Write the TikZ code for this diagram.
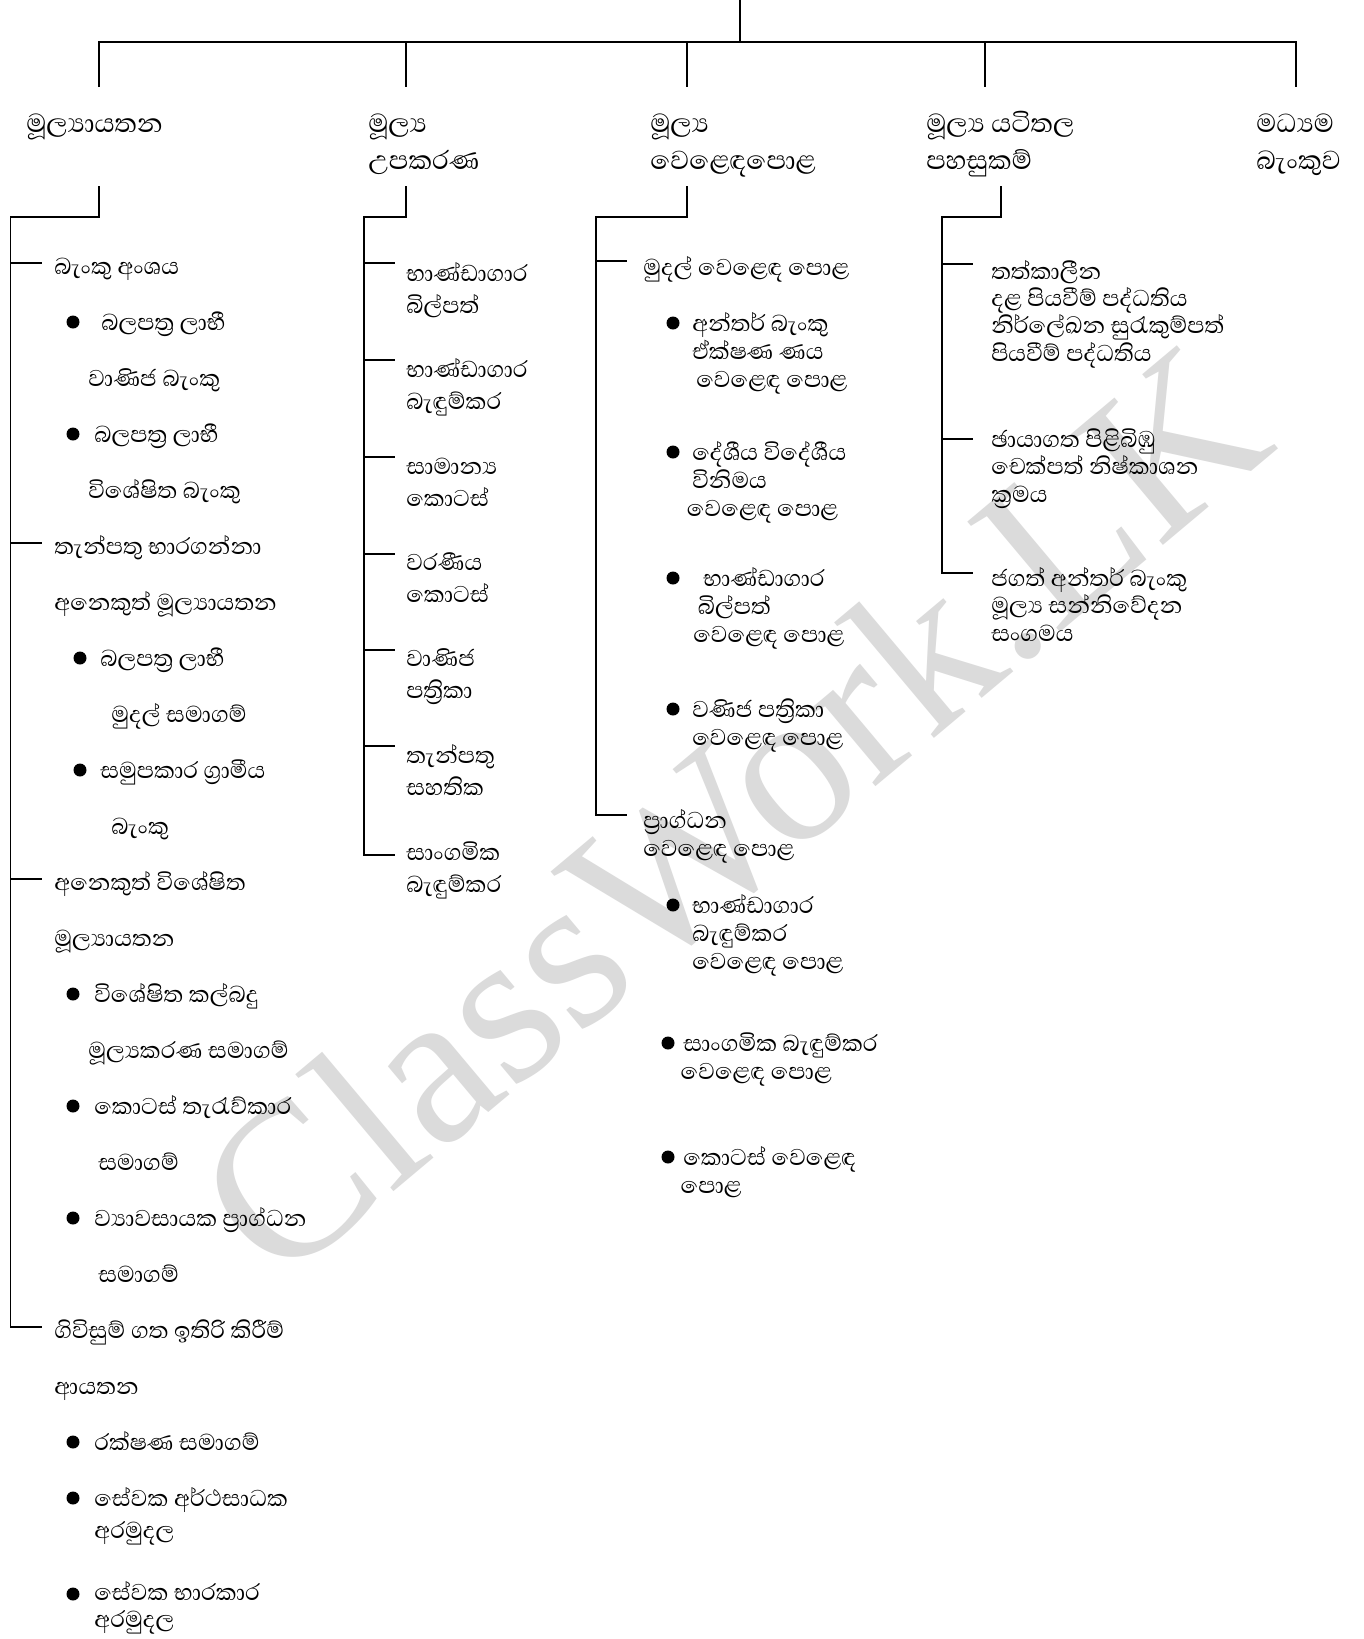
\documentclass[tikz,border=0pt]{standalone}
\usepackage{fontspec}
\setmainfont{Liberation Serif}
\newfontfamily\sinhala[Script=Sinhala]{Abhaya Libre}
\usetikzlibrary{calc}

\tikzset{
  ln/.style={line width=0.8pt},
  hdr/.style={anchor=base west, inner sep=0pt, align=left, font=\fontsize{25}{27.75}\sinhala},
  itm/.style={anchor=base west, inner sep=0pt, align=left, font=\fontsize{22}{21}\sinhala},
  ins/.style={itm, font=\fontsize{22}{24}\sinhala},
  mkt/.style={itm, font=\fontsize{22}{21}\sinhala},
  inf/.style={itm, font=\fontsize{22}{20.5}\sinhala},
  wmark/.style={inner sep=0pt, text=black!14, rotate=40, font=\fontsize{165}{165}\selectfont},
}
% stub from a trunk to an item (last baseline + offset)
\newcommand{\branch}[3]{\draw[ln] (#1 |- #2.base west) ++(0,#3) -- ++(31,0);}

\begin{document}
\begin{tikzpicture}[x=0.75pt,y=0.75pt,yscale=-1,xscale=1]
\fill[white] (0,0) rectangle (1364,1639);
\useasboundingbox (0,0) rectangle (1364,1639);

% watermark
\node[wmark] (wm) at (731,811) {ClassWork.LK};

% top level
\coordinate (top) at (740,0);
\coordinate (bar) at (740,42);
\coordinate (d1) at (99,87);
\coordinate (d2) at (406,87);
\coordinate (d3) at (687,87);
\coordinate (d4) at (985,87);
\coordinate (d5) at (1296,87);
\draw[ln] (top) -- (bar);
\draw[ln] (d1) |- (bar) -| (d5);
\draw[ln] (bar -| d2) -- (d2);
\draw[ln] (bar -| d3) -- (d3);
\draw[ln] (bar -| d4) -- (d4);

% headings
\node[hdr] (h1) at (26,132) {මූල්^^^^200dයායතන};
\node[hdr] (h2) at (368,169) {මූල්^^^^200dය\\උපකරණ};
\node[hdr] (h3) at (650,169) {මූල්^^^^200dය\\වෙළෙඳපොළ};
\node[hdr] (h4) at (926,169) {මූල්^^^^200dය යටිතල\\පහසුකම්};
\node[hdr] (h5) at (1256,169) {මධ්^^^^200dයම\\බැංකුව};

% column 1
\coordinate (k1) at (99,186);
\coordinate (t1) at (10.5,217);
\node[itm] (fi0) at (54,274) {බැංකු අංශය};
\fill (73,322) circle (6.5);
\node[itm] (fi1) at (101,330) {බලපත්^^^^200dර ලාභී};
\node[itm] (fi2) at (88,386) {වාණිජ බැංකු};
\fill (73,434) circle (6.5);
\node[itm] (fi3) at (94,442) {බලපත්^^^^200dර ලාභී};
\node[itm] (fi4) at (88,498) {විශේෂිත බැංකු};
\node[itm] (fi5) at (54,554) {තැන්පතු භාරගන්නා};
\node[itm] (fi6) at (54,610) {අනෙකුත් මූල්^^^^200dයායතන};
\fill (80,658) circle (6.5);
\node[itm] (fi7) at (100,666) {බලපත්^^^^200dර ලාභී};
\node[itm] (fi8) at (111,722) {මුදල් සමාගම්};
\fill (80,770) circle (6.5);
\node[itm] (fi9) at (100,778) {සමුපකාර ග්^^^^200dරාමීය};
\node[itm] (fi10) at (111,834) {බැංකු};
\node[itm] (fi11) at (54,890) {අනෙකුත් විශේෂිත};
\node[itm] (fi12) at (54,946) {මූල්^^^^200dයායතන};
\fill (73,994) circle (6.5);
\node[itm] (fi13) at (94,1002) {විශේෂිත කල්බදු};
\node[itm] (fi14) at (88,1058) {මූල්^^^^200dයකරණ සමාගම්};
\fill (73,1106) circle (6.5);
\node[itm] (fi15) at (94,1114) {කොටස් තැරැව්කාර};
\node[itm] (fi16) at (98,1170) {සමාගම්};
\fill (73,1218) circle (6.5);
\node[itm] (fi17) at (94,1226) {ව්^^^^200dයාවසායක ප්^^^^200dරාග්ධන};
\node[itm] (fi18) at (98,1282) {සමාගම්};
\node[itm] (fi19) at (54,1338) {ගිවිසුම් ගත ඉතිරි කිරීම්};
\node[itm] (fi20) at (54,1394) {ආයතන};
\fill (73,1442) circle (6.5);
\node[itm] (fi21) at (94,1450) {රක්ෂණ සමාගම්};
\fill (73,1498) circle (6.5);
\node[ins] (fi22) at (94,1538) {සේවක අර්ථසාධක\\අරමුදල};
\fill (73,1594) circle (6.5);
\node[itm, font=\fontsize{22}{20}\sinhala] (fi23) at (94,1627) {සේවක භාරකාර\\අරමුදල};
\draw[ln] (k1) |- (t1) -- ($(t1 |- fi19.base west)+(0,-11)$) -- ++(31,0);
\branch{t1}{fi0}{-11}
\branch{t1}{fi5}{-11}
\branch{t1}{fi11}{-11}

% column 2
\coordinate (k2) at (406,186);
\coordinate (t2) at (364,217);
\node[ins] (ins1) at (406,313) {භාණ්ඩාගාර\\බිල්පත්};
\node[ins] (ins2) at (406,409) {භාණ්ඩාගාර\\බැඳුම්කර};
\node[ins] (ins3) at (406,506) {සාමාන්^^^^200dය\\කොටස්};
\node[ins] (ins4) at (406,602) {වරණීය\\කොටස්};
\node[ins] (ins5) at (406,698) {වාණිජ\\පත්^^^^200dරිකා};
\node[ins] (ins6) at (406,795) {තැන්පතු\\සහතික};
\node[ins] (ins7) at (406,892) {සාංගමික\\බැඳුම්කර};
\draw[ln] (k2) |- (t2) -- ($(t2 |- ins7.base west)+(0,-37)$) -- ++(31,0);
\branch{t2}{ins1}{-50}
\branch{t2}{ins2}{-49}
\branch{t2}{ins3}{-49}
\branch{t2}{ins4}{-48}
\branch{t2}{ins5}{-48}
\branch{t2}{ins6}{-49}

% column 3
\coordinate (k3) at (687,186);
\coordinate (t3) at (596,217);
\node[mkt] (mk1) at (643,275) {මුදල් වෙළෙඳ පොළ};
\fill (673,323) circle (6.5);
\node[mkt] (mk11) at (692,387) {අන්තර් බැංකු\\ඒක්ෂණ ණය\\\hspace*{3pt}වෙළෙඳ පොළ};
\fill (673,452) circle (6.5);
\node[mkt] (mk12) at (692,516) {දේශීය විදේශීය\\විනිමය\\\hspace*{-4pt}වෙළෙඳ පොළ};
\fill (673,578) circle (6.5);
\node[mkt] (mk13) at (703,642) {භාණ්ඩාගාර\\\hspace*{-4pt}බිල්පත්\\\hspace*{-7.5pt}වෙළෙඳ පොළ};
\fill (673,709) circle (6.5);
\node[mkt] (mk14) at (692,745) {වණිජ පත්^^^^200dරිකා\\වෙළෙඳ පොළ};
\node[mkt] (mk2) at (643,856) {ප්^^^^200dරාග්ධන\\වෙළෙඳ පොළ};
\fill (673,905) circle (6.5);
\node[mkt] (mk21) at (692,969) {භාණ්ඩාගාර\\බැඳුම්කර\\වෙළෙඳ පොළ};
\fill (668,1043) circle (6.5);
\node[mkt] (mk22) at (683,1079) {සාංගමික බැඳුම්කර\\\hspace*{-2pt}වෙළෙඳ පොළ};
\fill (668,1157) circle (6.5);
\node[mkt] (mk23) at (683,1193) {කොටස් වෙළෙඳ\\\hspace*{-2pt}පොළ};
\draw[ln] (k3) |- (t3) -- ($(t3 |- mk2.base west)+(0,-41)$) -- ++(31,0);
\branch{t3}{mk1}{-14}

% column 4
\coordinate (k4) at (1001,186);
\coordinate (t4) at (942,217);
\node[inf] (inf1) at (991,361) {තත්කාලීන\\දළ පියවීම් පද්ධතිය\\නිර්ලේඛන සුරැකුම්පත්\\පියවීම් පද්ධතිය};
\node[inf] (inf2) at (991,502) {ඡායාගත පිළිබිඹු\\චෙක්පත් නිෂ්කාශන\\ක්^^^^200dරමය};
\node[inf] (inf3) at (991,641) {ජගත් අන්තර් බැංකු\\මූල්^^^^200dය සන්නිවේදන\\සංගමය};
\draw[ln] (k4) |- (t4) -- ($(t4 |- inf3.base west)+(0,-68)$) -- ++(31,0);
\branch{t4}{inf1}{-97}
\branch{t4}{inf2}{-63}

\end{tikzpicture}
\end{document}
